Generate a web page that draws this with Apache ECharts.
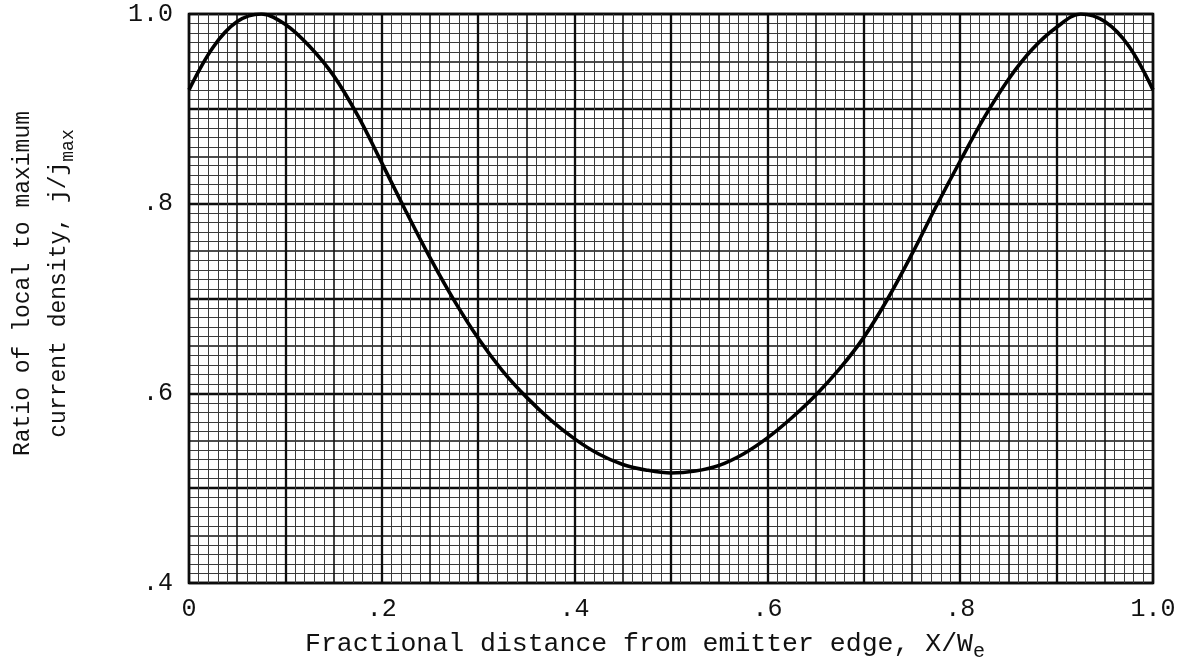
<!DOCTYPE html>
<html>
<head>
<meta charset="utf-8">
<script src="https://cdn.jsdelivr.net/npm/echarts@6/dist/echarts.min.js"></script>
<style>
html,body{margin:0;padding:0;background:#fff;}
#chart{width:1189px;height:667px;}
</style>
</head>
<body>
<div id="chart"></div>
<script>
// Data
const xValues = [0.000,0.025,0.050,0.075,0.100,0.125,0.150,0.175,0.200,0.225,0.250,0.275,0.300,0.325,0.350,0.375,0.400,0.425,0.450,0.475,0.500,0.525,0.550,0.575,0.600,0.625,0.650,0.675,0.700,0.725,0.750,0.775,0.800,0.825,0.850,0.875,0.900,0.925,0.950,0.975,1.000];
const yValues = [0.920,0.965,0.992,1.000,0.989,0.966,0.935,0.893,0.843,0.792,0.743,0.698,0.658,0.624,0.596,0.572,0.552,0.536,0.525,0.519,0.516,0.518,0.524,0.536,0.553,0.574,0.598,0.626,0.659,0.700,0.747,0.797,0.845,0.891,0.931,0.963,0.986,1.000,0.992,0.966,0.920];

const xTicks = [0, 0.2, 0.4, 0.6, 0.8, 1.0];
const xTickLabels = ['0', '.2', '.4', '.6', '.8', '1.0'];
const yTicks = [0.4, 0.6, 0.8, 1.0];
const yTickLabels = ['.4', '.6', '.8', '1.0'];

const xTitle = 'Fractional distance from emitter edge, X/W';
const xTitleSub = 'e';
const yTitleLine1 = 'Ratio of local to maximum';
const yTitleLine2 = 'current density, j/j';
const yTitleSub = 'max';

function labelFor(ticks, labels) {
  return function (v) {
    for (let i = 0; i < ticks.length; i++) {
      if (Math.abs(ticks[i] - v) < 1e-6) return labels[i];
    }
    return '';
  };
}

const FONT = 'Liberation Mono';
const minorStyle = { color: '#3a3a3a', width: 1 };
const midStyle = { color: '#111', width: 1.6 };
const heavyStyle = { color: '#000', width: 2.3 };

const chart = echarts.init(document.getElementById('chart'), null, { renderer: 'canvas' });

const option = {
  backgroundColor: '#fff',
  animation: false,
  grid: {
    left: 189, right: 36, top: 14, bottom: 80,
    show: true, borderColor: '#000', borderWidth: 2.5, backgroundColor: 'transparent'
  },
  xAxis: [
    {
      type: 'value', min: 0, max: 1, interval: 0.2, position: 'bottom',
      axisLine: { show: false }, axisTick: { show: false },
      splitLine: { show: false },
      axisLabel: { formatter: labelFor(xTicks, xTickLabels), fontFamily: FONT, fontSize: 25, color: '#111', margin: 14 },
      name: '{m|' + xTitle + '}{s|' + xTitleSub + '}',
      nameLocation: 'middle', nameGap: 47,
      nameTextStyle: {
        padding: [0, 52, 0, 0],
        rich: {
          m: { fontFamily: FONT, fontSize: 26.5, color: '#111', lineHeight: 32, verticalAlign: 'top' },
          s: { fontFamily: FONT, fontSize: 20, color: '#111', lineHeight: 32, verticalAlign: 'bottom', padding: [10, 0, 0, 0] }
        }
      }
    },
    {
      type: 'value', min: 0, max: 1, interval: 0.1, position: 'bottom',
      axisLine: { show: false }, axisTick: { show: false }, axisLabel: { show: false },
      splitLine: { show: true, lineStyle: heavyStyle }
    },
    {
      type: 'value', min: 0, max: 1, interval: 0.05, position: 'bottom',
      axisLine: { show: false }, axisTick: { show: false }, axisLabel: { show: false },
      splitLine: { show: true, lineStyle: midStyle },
      minorTick: { show: false, splitNumber: 5 },
      minorSplitLine: { show: true, lineStyle: minorStyle }
    }
  ],
  yAxis: [
    {
      type: 'value', min: 0.4, max: 1.0, interval: 0.2, position: 'left',
      axisLine: { show: false }, axisTick: { show: false },
      splitLine: { show: false },
      axisLabel: { formatter: labelFor(yTicks, yTickLabels), fontFamily: FONT, fontSize: 25, color: '#111', margin: 16 },
      name: '{m|' + yTitleLine1 + '}\n{m|' + yTitleLine2 + '}{s|' + yTitleSub + '}',
      nameLocation: 'middle', nameRotate: 90, nameGap: 112,
      nameTextStyle: {
        align: 'center',
        padding: [0, 0, 0, 30],
        rich: {
          m: { fontFamily: FONT, fontSize: 23, color: '#111', lineHeight: 36 },
          s: { fontFamily: FONT, fontSize: 18, color: '#111', lineHeight: 36, verticalAlign: 'bottom', padding: [12, 0, 0, 0] }
        }
      }
    },
    {
      type: 'value', min: 0.4, max: 1.0, interval: 0.1, position: 'left',
      axisLine: { show: false }, axisTick: { show: false }, axisLabel: { show: false },
      splitLine: { show: true, lineStyle: heavyStyle }
    },
    {
      type: 'value', min: 0.4, max: 1.0, interval: 0.05, position: 'left',
      axisLine: { show: false }, axisTick: { show: false }, axisLabel: { show: false },
      splitLine: { show: true, lineStyle: midStyle },
      minorTick: { show: false, splitNumber: 5 },
      minorSplitLine: { show: true, lineStyle: minorStyle }
    }
  ],
  series: [
    {
      type: 'line',
      xAxisIndex: 0, yAxisIndex: 0,
      data: xValues.map((x, i) => [x, yValues[i]]),
      smooth: 0.35,
      showSymbol: false,
      symbol: 'none',
      lineStyle: { color: '#000', width: 3.6 },
      z: 10
    }
  ]
};

chart.setOption(option);
</script>
</body>
</html>
